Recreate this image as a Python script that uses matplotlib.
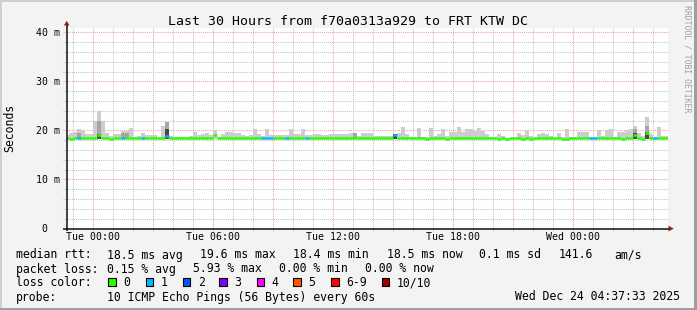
import numpy as np
import matplotlib
matplotlib.use("Agg")
import matplotlib.pyplot as plt
from matplotlib.patches import Rectangle, Polygon

W, H = 697, 310
plt.rcParams["font.family"] = "DejaVu Sans Mono"

# 12 minute bins, bin k starts k*0.2 h after Tue 00:00
first_bin = -7
smoke_top = [
    19.0, 19.5, 19.7, 20.2, 20.0, 19.2, 19.2,
    21.9, 23.9, 21.9, 19.5, 18.9, 19.2, 19.2, 19.9, 19.9, 20.4,
    18.7, 18.9, 19.5, 19.1, 19.1, 19.1, 18.7, 20.8, 21.7, 18.9,
    18.7, 18.7, 18.7, 18.7, 18.9, 19.7, 19.1, 19.3, 19.5, 19.1,
    20.0, 18.7, 19.2, 19.7, 19.7, 19.5, 19.5, 19.1, 18.9, 19.1,
    20.2, 19.3, 18.9, 20.2, 19.0, 19.0, 19.0, 19.0, 19.0, 20.2,
    19.2, 19.2, 20.2, 19.0, 19.0, 19.2, 19.2, 19.0, 19.0, 19.2,
    19.2, 19.2, 19.2, 19.2, 19.4, 19.4, 18.8, 19.4, 19.4, 19.4,
    18.9, 18.9, 18.9, 18.9, 18.9, 19.2, 19.5, 20.7, 19.3, 18.7,
    18.7, 20.5, 18.7, 18.7, 20.5, 18.9, 19.3, 20.2, 18.9, 19.7,
    19.7, 20.7, 19.7, 20.2, 20.2, 19.8, 20.5, 19.8, 19.3, 18.7,
    18.7, 19.3, 18.9, 18.5, 18.5, 18.5, 19.5, 19.1, 20.1, 18.9,
    18.5, 19.3, 19.5, 19.3, 18.9, 18.5, 19.5, 18.7, 20.3, 18.7,
    18.7, 19.7, 19.7, 19.7, 18.7, 18.7, 20.1, 18.9, 20.1, 20.2,
    18.7, 19.7, 19.7, 20.1, 20.2, 20.8, 19.5, 18.9, 22.8, 19.3,
    18.7, 20.7, 18.9, 18.9,
]
smoke_low = 18.3
mid_bins = [-4, 1, 7, 8, 18, 65, 135, 138]
mid_vals = [19.4, 21.9, 19.5, 19.5, 21.7, 19.4, 20.2, 20.8]
dark_bins = [1, 18, 75, 135, 138]
dark_vals = [19.2, 20.3, 19.2, 19.4, 19.6]

median_base = 18.5
median_bins = [-6, 1, 4, 18, 30, 75, 83, 88, 101, 103, 107, 109, 117, 118, 132, 135, 137, 138]
median_vals = [18.2, 19.0, 18.2, 18.9, 19.0, 19.0, 18.2, 18.2, 18.2, 18.2, 18.2, 18.2, 18.2, 18.2, 18.2, 19.0, 18.2, 19.5]
loss1_bins = [-4, 7, 12, 18, 42, 43, 44, 48, 53, 75, 124, 125, 140]

loss_labels = ["0", "1", "2", "3", "4", "5", "6-9", "10/10"]
loss_colors = ["#26ff00", "#00b8ff", "#0059ff", "#7e00ff", "#ff00ff", "#ff5500", "#ff0000", "#a10000"]

xtick_hours = [0, 6, 12, 18, 24]
xtick_labels = ["Tue 00:00", "Tue 06:00", "Tue 12:00", "Tue 18:00", "Wed 00:00"]
ytick_vals = [0, 10, 20, 30, 40]
ytick_labels = ["0", "10 m", "20 m", "30 m", "40 m"]

# pixel geometry of the canvas
px_left, px_right, px_top, px_zero = 67, 668, 28, 228.3
px_per_ms = 4.9
px_hour0, px_per_hour = 93.3, 20

fig = plt.figure(figsize=(W / 100, H / 100), dpi=100)
fig.patch.set_facecolor("#f3f3f3")
ax = fig.add_axes([px_left / W, (H - px_zero) / H, (px_right - px_left) / W, (px_zero - px_top) / H])
ax.set_xlim((px_left - px_hour0) / px_per_hour, (px_right - px_hour0) / px_per_hour)
ax.set_ylim(0, (px_zero - px_top) / px_per_ms)
ax.set_facecolor("white")
for s in ax.spines.values():
    s.set_visible(False)
ax.set_xticks([])
ax.set_yticks([])

minor_c, major_c = "#c4c4c4", "#eba3a3"
for h in range(-1, 29):
    major = h % 3 == 0
    ax.axvline(h, ymin=-0.012, ymax=1, color=major_c if major else minor_c, lw=0.75,
               ls=(0, (1, 1)), zorder=0, clip_on=False)
for v in range(2, 41, 2):
    major = v % 10 == 0
    ax.axhline(v, xmin=-0.006, xmax=1, color=major_c if major else minor_c, lw=0.75,
               ls=(0, (1, 1)), zorder=0, clip_on=False)

bins = np.arange(first_bin, first_bin + len(smoke_top))
t = bins * 0.2
top = np.array(smoke_top)
ax.bar(t, top - smoke_low, width=0.2, bottom=smoke_low, align="edge", color="#cdcdcd", lw=0, zorder=2)
mt = np.array(mid_bins) * 0.2
ax.bar(mt, np.array(mid_vals) - smoke_low, width=0.2, bottom=smoke_low, align="edge", color="#a6a6a6", lw=0, zorder=2)
dt = np.array(dark_bins) * 0.2
ax.bar(dt, np.array(dark_vals) - smoke_low, width=0.2, bottom=smoke_low, align="edge", color="#484848", lw=0, zorder=2)

med = np.full(len(bins), median_base)
for b, v in zip(median_bins, median_vals):
    med[b - first_bin] = v
cols = [loss_colors[1] if b in loss1_bins else loss_colors[0] for b in bins]
ax.hlines(med, t, t + 0.2, colors=cols, lw=1.8, zorder=3, capstyle="butt")

# overlay in pixel coordinates
ov = fig.add_axes([0, 0, 1, 1], zorder=5)
ov.set_xlim(0, W)
ov.set_ylim(H, 0)
ov.axis("off")
ov.patch.set_alpha(0)

ov.add_patch(Rectangle((0, 0), W, 2, color="#cfcfcf", lw=0))
ov.add_patch(Rectangle((0, 0), 2, H, color="#cfcfcf", lw=0))
ov.add_patch(Rectangle((0, H - 2.5), W, 2.5, color="#9e9e9e", lw=0))
ov.add_patch(Rectangle((W - 3, 0), 3, H, color="#9e9e9e", lw=0))

ov.plot([63, 669], [228.6, 228.6], color="#101010", lw=1.1, solid_capstyle="butt")
ov.plot([66.7, 66.7], [231, 25], color="#101010", lw=1.1, solid_capstyle="butt")
ov.add_patch(Polygon([(668.5, 225.8), (668.5, 231.4), (673.8, 228.6)], color="#9c1c1c", lw=0))
ov.add_patch(Polygon([(63.9, 25.5), (69.5, 25.5), (66.7, 20.8)], color="#9c1c1c", lw=0))

ov.text(348, 24.7, "Last 30 Hours from f70a0313a929 to FRT KTW DC", ha="center", va="baseline", fontsize=9.5)
ov.text(10, 128, "Seconds", rotation=90, ha="center", va="center", fontsize=8.3)
ov.text(686.5, 5, "RRDTOOL / TOBI OETIKER", rotation=270, ha="center", va="top", fontsize=5.9, color="#a0a0a0")

for v, lab in zip(ytick_vals, ytick_labels):
    xr = 60 if " " in lab else 47
    ov.text(xr, px_zero - px_per_ms * v + 3.4, lab, ha="right", va="baseline", fontsize=7.1)
for h, lab in zip(xtick_hours, xtick_labels):
    ov.text(px_hour0 + px_per_hour * h, 240.5, lab, ha="center", va="baseline", fontsize=7.1)

fs = 8.3
rows = [
    (258.5, [(16, "median rtt:"), (107.3, "18.5 ms avg"), (200, "19.6 ms max"), (293.3, "18.4 ms min"),
             (386.7, "18.5 ms now"), (479.3, "0.1 ms sd"), (558.3, "141.6"), (614, "am/s")]),
    (272.5, [(16, "packet loss:"), (107.3, "0.15 % avg"), (193, "5.93 % max"), (279, "0.00 % min"),
             (365, "0.00 % now")]),
    (286.5, [(16, "loss color:")]),
    (300.5, [(16, "probe:"), (107.3, "10 ICMP Echo Pings (56 Bytes) every 60s")]),
]
for y, items in rows:
    for x, s in items:
        ov.text(x, y, s, ha="left", va="baseline", fontsize=fs)
ov.text(680, 300.5, "Wed Dec 24 04:37:33 2025", ha="right", va="baseline", fontsize=fs)

box_x = [108.3, 145.7, 182.7, 219.3, 256.7, 293.3, 331, 381.7]
for bx, lab, c in zip(box_x, loss_labels, loss_colors):
    ov.add_patch(Rectangle((bx, 278.3), 7.5, 7.5, facecolor=c, edgecolor="black", lw=0.8))
    ov.text(bx + 15, 286.5, lab, ha="left", va="baseline", fontsize=fs)

fig.savefig("out.png", dpi=100, facecolor=fig.get_facecolor())
